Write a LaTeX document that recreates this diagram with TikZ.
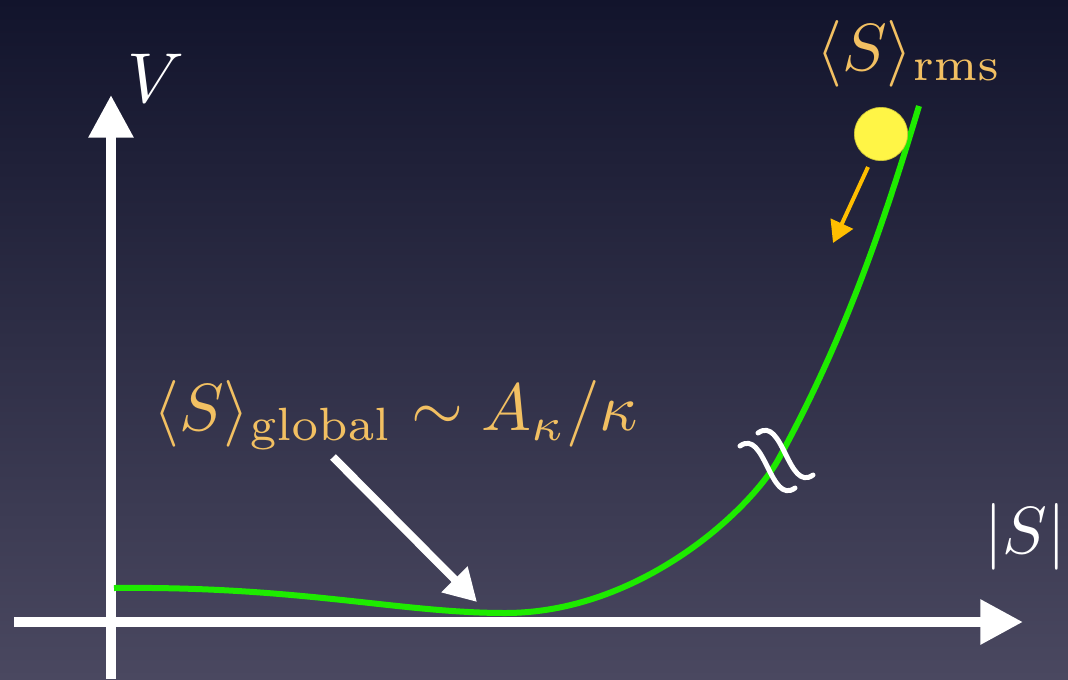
\documentclass[tikz,border=0pt]{standalone}
\usetikzlibrary{arrows.meta}
\definecolor{bgtop}{RGB}{18,20,44}
\definecolor{bgbot}{RGB}{74,72,96}
\definecolor{lab}{RGB}{242,192,98}
\definecolor{curvec}{RGB}{30,235,0}
\definecolor{ballc}{RGB}{255,245,70}
\definecolor{pushc}{RGB}{255,190,0}
\begin{document}
\begin{tikzpicture}[x=0.75pt,y=-0.75pt,
  axis/.style={white,line width=7.5pt,-{Triangle[length=32pt,width=32pt]}},
  pointer/.style={white,line width=6pt,-{Triangle[length=24pt,width=26pt]}},
  pusher/.style={pushc,line width=3pt,-{Triangle[length=16pt,width=18pt]}},
  curveline/.style={curvec,line width=4.5pt},
  wave/.style={white,line width=3.75pt,line cap=round},
  big/.style={font=\normalsize,scale=5.0,inner sep=0pt},
  lbl/.style={big,text=lab,anchor=base west},
  axlbl/.style={big,text=white,anchor=base west}]
\shade[top color=bgtop,bottom color=bgbot] (0,0) rectangle (1068,679);
\useasboundingbox (0,0) rectangle (1068,679);
% axes
\coordinate (yb) at (111,679);
\coordinate (yt) at (111,95);
\coordinate (xl) at (14,622);
\coordinate (xr) at (1023,622);
\draw[axis] (yb) -- (yt);
\draw[axis] (xl) -- (xr);
% potential curve
\coordinate (c0) at (114,588);
\coordinate (c1) at (505,613);
\coordinate (c2) at (778,460);
\coordinate (c3) at (919,106);
\draw[curveline] (c0) .. controls (300,586) and (400,613) .. (c1)
  .. controls (640,613) and (750,510) .. (c2)
  .. controls (844,340) and (883,226) .. (c3);
% break marks
\coordinate (w1a) at (740,446);
\coordinate (w1b) at (795,488);
\coordinate (w2a) at (758,433);
\coordinate (w2b) at (813,475);
\draw[wave] (w1a) .. controls (765,428) and (770,506) .. (w1b);
\draw[wave] (w2a) .. controls (783,415) and (788,493) .. (w2b);
% ball
\node[circle,fill=ballc,draw=ballc!80!black,line width=0.5pt,minimum size=40pt,inner sep=0pt] (ball) at (881,134) {};
\coordinate (ps) at (868,167);
\coordinate (pe) at (833,243);
\draw[pusher] (ps) -- (pe);
% labels
\node[axlbl,scale=1.06] (vlab) at (126,102) {$V$};
\node[axlbl] (slab) at (983,553) {$|S|$};
\node[lbl] (rms) at (815,70) {$\langle S\rangle_{\mathrm{rms}}$};
\node[lbl] (glob) at (152,430) {$\langle S\rangle_{\mathrm{global}}\sim A_\kappa/\kappa$};
\coordinate (gs) at (333,457);
\coordinate (ge) at (477,602);
\draw[pointer] (gs) -- (ge);
\end{tikzpicture}
\end{document}
